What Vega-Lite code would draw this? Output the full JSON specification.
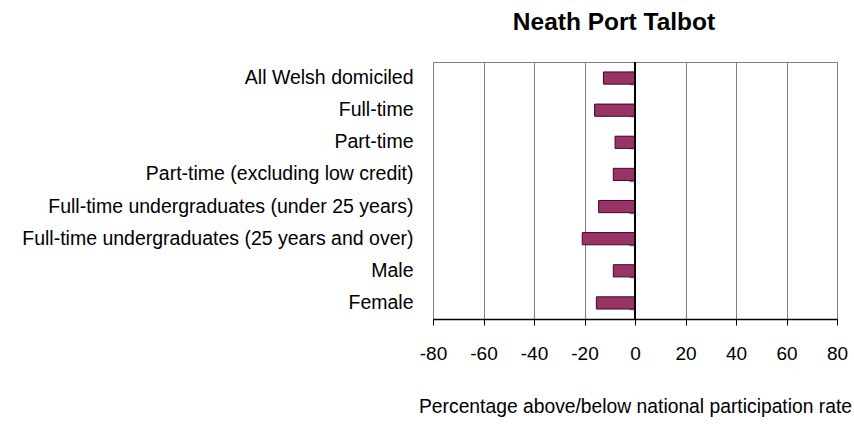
{
  "$schema": "https://vega.github.io/schema/vega-lite/v6.json",
  "autosize": "none",
  "width": 404,
  "height": 257,
  "padding": {"left": 433, "top": 62, "right": 17, "bottom": 107},
  "background": "white",
  "config": {
    "font": "Liberation Sans",
    "view": {"stroke": "#808080", "strokeWidth": 1}
  },
  "title": {
    "text": "Neath Port Talbot",
    "fontSize": 24.5,
    "fontWeight": "bold",
    "color": "black",
    "offset": 26,
    "dx": -21,
    "anchor": "middle"
  },
  "data": {
    "values": [
      {"category": "All Welsh domiciled", "value": -12.5},
      {"category": "Full-time", "value": -16},
      {"category": "Part-time", "value": -7.9},
      {"category": "Part-time (excluding low credit)", "value": -8.6},
      {"category": "Full-time undergraduates (under 25 years)", "value": -14.4},
      {"category": "Full-time undergraduates (25 years and over)", "value": -20.9},
      {"category": "Male", "value": -8.6},
      {"category": "Female", "value": -15.3}
    ]
  },
  "resolve": {"axis": {"y": "independent"}},
  "layer": [
    {
      "mark": {"type": "bar", "fill": "#993366", "stroke": "#3a0a26", "strokeWidth": 1},
      "encoding": {
        "x": {
          "field": "value",
          "type": "quantitative",
          "scale": {"domain": [-80, 80], "nice": false},
          "axis": {
            "values": [-80, -60, -40, -20, 0, 20, 40, 60, 80],
            "labelExpr": "'' + datum.value",
            "labelFlush": false,
            "labelOverlap": false,
            "title": "Percentage above/below national participation rate",
            "titleFontSize": 19.3,
            "titleFontWeight": "normal",
            "titleColor": "black",
            "titlePadding": 34,
            "labelFontSize": 19,
            "labelColor": "black",
            "labelPadding": 19,
            "tickSize": 6,
            "tickColor": "black",
            "domainColor": "black",
            "domainWidth": 1.5,
            "grid": true,
            "gridColor": "#808080",
            "gridWidth": 1
          }
        },
        "y": {
          "field": "category",
          "type": "nominal",
          "sort": null,
          "scale": {"paddingInner": 0.62, "paddingOuter": 0.31},
          "axis": {
            "title": null,
            "domain": false,
            "ticks": false,
            "labelFontSize": 19.5,
            "labelColor": "black",
            "labelPadding": 20,
            "labelLimit": 600
          }
        }
      }
    },
    {
      "mark": {"type": "bar", "opacity": 0},
      "encoding": {
        "x": {"datum": 0, "type": "quantitative"},
        "y": {
          "field": "category",
          "type": "nominal",
          "sort": null,
          "axis": {
            "orient": "left",
            "offset": -202,
            "title": null,
            "labels": false,
            "domain": false,
            "ticks": true,
            "tickBand": "extent",
            "tickSize": 6,
            "tickColor": "#808080",
            "tickWidth": 1.5
          }
        }
      }
    },
    {
      "mark": {"type": "rule", "color": "black", "strokeWidth": 1.5},
      "encoding": {
        "x": {"datum": 0, "type": "quantitative"}
      }
    }
  ]
}
